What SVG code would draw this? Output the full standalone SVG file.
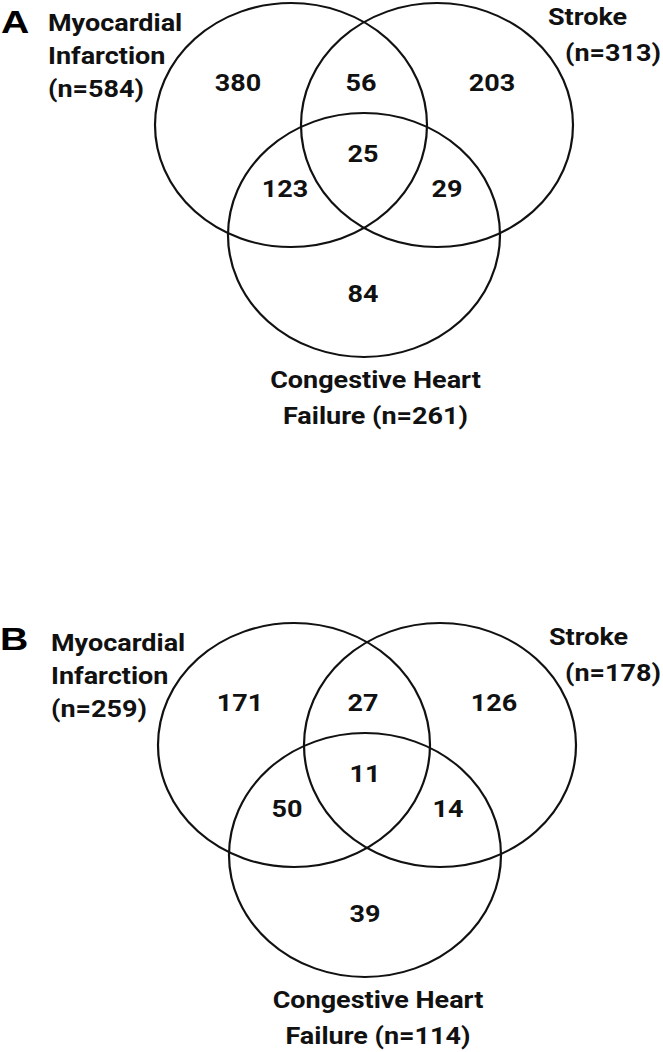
<svg xmlns="http://www.w3.org/2000/svg" width="663" height="1052" viewBox="0 0 663 1052">
<style>
  .set { fill: none; stroke: #111; stroke-width: 2.2; }
  .lbl { font-family: Roboto, "Liberation Sans", sans-serif; font-weight: bold; font-size: 27px; fill: #111; }
  .num { font-family: Roboto, "Liberation Sans", sans-serif; font-weight: bold; font-size: 27px; fill: #111; text-anchor: middle; }
  .mid { text-anchor: middle; }
  .panel { font-family: "Liberation Sans", Arial, sans-serif; font-weight: bold; font-size: 35px; fill: #000; }
</style>
<rect width="663" height="1052" fill="#fff"/>

<g id="panelA" transform="matrix(1 0 0 0.897 0 0)">
  <text class="panel" transform="translate(1 36.5) scale(1.12 1)">A</text>
  <g id="A-MI">
    <circle class="set" cx="291" cy="139.4" r="136"/>
    <text class="lbl" x="48" y="34.6">Myocardial</text>
    <text class="lbl" x="48" y="71.3">Infarction</text>
    <text class="lbl" x="48" y="108.1">(n=584)</text>
  </g>
  <g id="A-Stroke">
    <circle class="set" cx="437" cy="139.4" r="136"/>
    <text class="lbl" x="548" y="27.9">Stroke</text>
    <text class="lbl" x="565" y="68">(n=313)</text>
  </g>
  <g id="A-CHF">
    <circle class="set" cx="364" cy="262" r="136"/>
    <text class="lbl mid" x="375.5" y="432.6">Congestive Heart</text>
    <text class="lbl mid" x="375.5" y="472.7">Failure (n=261)</text>
  </g>
  <g id="A-counts">
    <text class="num" x="238" y="101.4">380</text>
    <text class="num" x="361" y="101.4">56</text>
    <text class="num" x="492" y="101.4">203</text>
    <text class="num" x="363" y="180.6">25</text>
    <text class="num" x="285" y="219.6">123</text>
    <text class="num" x="447" y="219.6">29</text>
    <text class="num" x="363" y="336.7">84</text>
  </g>
</g>

<g id="panelB" transform="matrix(1 0 0 0.897 0 620)">
  <text class="panel" transform="translate(0 34) scale(1.12 1)">B</text>
  <g id="B-MI">
    <circle class="set" cx="294" cy="139.4" r="136"/>
    <text class="lbl" x="51" y="34.6">Myocardial</text>
    <text class="lbl" x="51" y="71.3">Infarction</text>
    <text class="lbl" x="51" y="108.1">(n=259)</text>
  </g>
  <g id="B-Stroke">
    <circle class="set" cx="440" cy="139.4" r="136"/>
    <text class="lbl" x="549" y="27.9">Stroke</text>
    <text class="lbl" x="565" y="68">(n=178)</text>
  </g>
  <g id="B-CHF">
    <circle class="set" cx="365" cy="262" r="136"/>
    <text class="lbl mid" x="378" y="432.6">Congestive Heart</text>
    <text class="lbl mid" x="378" y="472.7">Failure (n=114)</text>
  </g>
  <g id="B-counts">
    <text class="num" x="240" y="101.4">171</text>
    <text class="num" x="363" y="101.4">27</text>
    <text class="num" x="494" y="101.4">126</text>
    <text class="num" x="365" y="180.6">11</text>
    <text class="num" x="287" y="219.6">50</text>
    <text class="num" x="448" y="219.6">14</text>
    <text class="num" x="365" y="336.7">39</text>
  </g>
</g>
</svg>
